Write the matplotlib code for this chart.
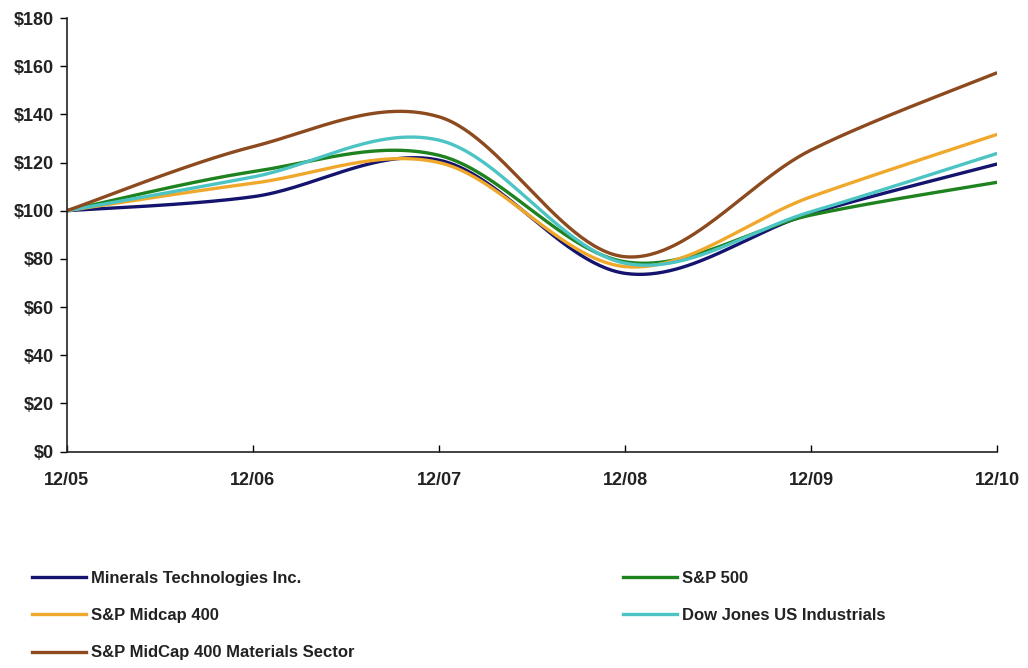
import numpy as np
import matplotlib
matplotlib.use("Agg")
import matplotlib.pyplot as plt
from matplotlib.lines import Line2D

plt.rcParams['font.family'] = ['Liberation Sans', 'DejaVu Sans']

periods = ["12/05", "12/06", "12/07", "12/08", "12/09", "12/10"]
minerals = [100, 105.8, 121.0, 74.0, 98.9, 119.4]
sp500 = [100, 116.2, 123.0, 78.8, 98.2, 111.8]
midcap400 = [100, 111.4, 120.0, 76.8, 105.8, 131.7]
dj_industrials = [100, 114.0, 129.3, 78.2, 99.6, 123.8]
materials = [100, 126.6, 139.0, 80.9, 125.2, 157.3]

series = [
    ("Minerals Technologies Inc.", minerals, "#14146e"),
    ("S&P 500", sp500, "#1e821e"),
    ("S&P Midcap 400", midcap400, "#f0a82c"),
    ("Dow Jones US Industrials", dj_industrials, "#4cc4c4"),
    ("S&P MidCap 400 Materials Sector", materials, "#8c4a1e"),
]


def smooth(x, y, n=60):
    # Catmull-Rom style cubic Bezier smoothing (like Excel smoothed lines)
    x = np.asarray(x, float)
    y = np.asarray(y, float)
    pts = np.column_stack([x, y])
    out = []
    m = len(pts)
    for i in range(m - 1):
        p0 = pts[i - 1] if i > 0 else pts[i]
        p1 = pts[i]
        p2 = pts[i + 1]
        p3 = pts[i + 2] if i + 2 < m else pts[i + 1]
        c1 = p1 + (p2 - p0) / 6.0
        c2 = p2 - (p3 - p1) / 6.0
        t = np.linspace(0, 1, n)[:, None]
        b = ((1 - t) ** 3) * p1 + 3 * ((1 - t) ** 2) * t * c1 + 3 * (1 - t) * t ** 2 * c2 + t ** 3 * p2
        out.append(b if i == 0 else b[1:])
    b = np.vstack(out)
    return b[:, 0], b[:, 1]


fig = plt.figure(figsize=(10.28, 6.68), dpi=100)
ax = fig.add_axes([0.065, 0.324, 0.905, 0.649])

xs = np.arange(len(periods))
for name, vals, col in series:
    sx, sy = smooth(xs, vals)
    ax.plot(sx, sy, color=col, lw=2.4, solid_capstyle='butt')

ax.set_xlim(0, len(periods) - 1)
ax.set_ylim(0, 180)
ax.set_yticks(np.arange(0, 181, 20))
ax.set_yticklabels([f"${v}" for v in range(0, 181, 20)], fontsize=13, fontweight='bold',
                   color='#222222')
ax.set_xticks(xs)
ax.set_xticklabels(periods, fontsize=13, fontweight='bold', color='#222222')
ax.tick_params(axis='x', direction='in', length=5, pad=15, width=1)
ax.tick_params(axis='y', direction='out', length=5, pad=4, width=1)
for s in ['top', 'right']:
    ax.spines[s].set_visible(False)
for s in ['left', 'bottom']:
    ax.spines[s].set_linewidth(1.2)
    ax.spines[s].set_color('#222222')

# legend laid out in two columns like the reference
order_left = [0, 2, 4]
order_right = [1, 3]
handles_l = [Line2D([], [], color=series[i][2], lw=2.4) for i in order_left]
labels_l = [series[i][0] for i in order_left]
handles_r = [Line2D([], [], color=series[i][2], lw=2.4) for i in order_right]
labels_r = [series[i][0] for i in order_right]

kw = dict(loc='upper left', frameon=False, fontsize=12, handlelength=3.2,
          handletextpad=0.3, labelspacing=1.33, borderaxespad=0)
leg1 = fig.legend(handles_l, labels_l, bbox_to_anchor=(0.025, 0.155), **kw)
leg2 = fig.legend(handles_r, labels_r, bbox_to_anchor=(0.6, 0.155), **kw)
for leg in (leg1, leg2):
    for t in leg.get_texts():
        t.set_fontweight('bold')
        t.set_color('#222222')

fig.savefig("out.png", dpi=100, facecolor='white')
